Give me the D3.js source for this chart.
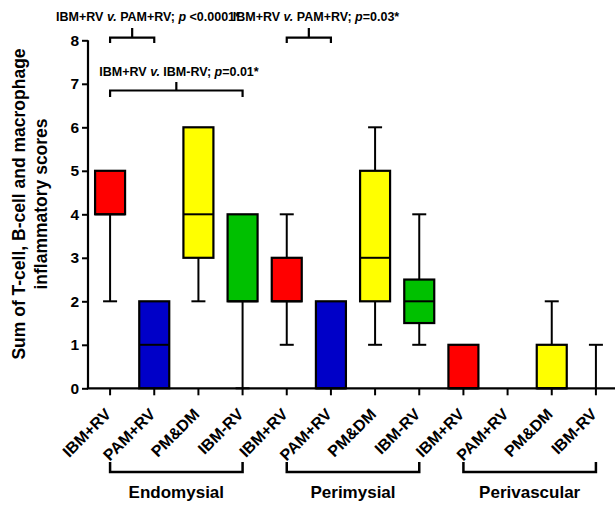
<!DOCTYPE html>
<html>
<head>
<meta charset="utf-8">
<script src="https://cdn.jsdelivr.net/npm/d3@7"></script>
<style>
  html, body { margin: 0; padding: 0; background: #fff; }
  svg { display: block; }
  text { font-family: "Liberation Sans", Arial, sans-serif; font-weight: bold; fill: #000; }
</style>
</head>
<body>
<svg id="chart" width="615" height="505"></svg>
<script>
// ---- data ----
const categories = ["IBM+RV", "PAM+RV", "PM&DM", "IBM-RV",
                    "IBM+RV", "PAM+RV", "PM&DM", "IBM-RV",
                    "IBM+RV", "PAM+RV", "PM&DM", "IBM-RV"];
const groups = ["Endomysial", "Perimysial", "Perivascular"];
const groupSize = 4;
const mins    = [2, 0, 2, 0,   1, 0, 1, 1,     0, 0, 0, 0];
const q1s     = [4, 0, 3, 2,   2, 0, 2, 1.5,   0, 0, 0, 0];
const medians = [4, 1, 4, 2,   2, 0, 3, 2,     0, 0, 0, 0];
const q3s     = [5, 2, 6, 4,   3, 2, 5, 2.5,   1, 0, 1, 0];
const maxs    = [5, 2, 6, 4,   4, 2, 6, 4,     1, 0, 2, 1];
const yTicks = [0, 1, 2, 3, 4, 5, 6, 7, 8];
const yTitle = ["Sum of T-cell, B-cell and macrophage", "inflammatory scores"];
const compFrom = [0, 4, 0];
const compTo   = [1, 5, 3];
const compA    = ["IBM+RV", "IBM+RV", "IBM+RV"];
const compB    = ["PAM+RV", "PAM+RV", "IBM-RV"];
const compP    = [" <0.0001*", "=0.03*", "=0.01*"];

// ---- style / layout ----
const colorByType = { "IBM+RV": "#ff0000", "PAM+RV": "#0000c8", "PM&DM": "#ffff00", "IBM-RV": "#00c000" };
const svg = d3.select("#chart");
const x = d3.scaleBand().domain(d3.range(categories.length)).range([88, 618]);
const y = d3.scaleLinear().domain([0, 8]).range([388.3, 40.3]);
const cx = i => x(i) + x.bandwidth() / 2;
const boxW = 30, capW = 14;

// boxes
const g = svg.append("g");
categories.forEach((c, i) => {
  const xc = cx(i);
  if (mins[i] < q1s[i]) {
    g.append("line").attr("x1", xc).attr("x2", xc).attr("y1", y(mins[i])).attr("y2", y(q1s[i]))
      .attr("stroke", "#000").attr("stroke-width", 2);
    g.append("line").attr("x1", xc - capW / 2).attr("x2", xc + capW / 2).attr("y1", y(mins[i])).attr("y2", y(mins[i]))
      .attr("stroke", "#000").attr("stroke-width", 2);
  }
  if (maxs[i] > q3s[i]) {
    g.append("line").attr("x1", xc).attr("x2", xc).attr("y1", y(maxs[i])).attr("y2", y(q3s[i]))
      .attr("stroke", "#000").attr("stroke-width", 2);
    g.append("line").attr("x1", xc - capW / 2).attr("x2", xc + capW / 2).attr("y1", y(maxs[i])).attr("y2", y(maxs[i]))
      .attr("stroke", "#000").attr("stroke-width", 2);
  }
  if (q3s[i] > q1s[i]) {
    g.append("rect").attr("x", xc - boxW / 2).attr("y", y(q3s[i])).attr("width", boxW)
      .attr("height", y(q1s[i]) - y(q3s[i]))
      .attr("fill", colorByType[c]).attr("stroke", "#000").attr("stroke-width", 2.2);
    g.append("line").attr("x1", xc - boxW / 2).attr("x2", xc + boxW / 2)
      .attr("y1", y(medians[i])).attr("y2", y(medians[i]))
      .attr("stroke", "#000").attr("stroke-width", 2);
  }
});

// y axis
const yAxis = svg.append("g").attr("transform", "translate(88,0)")
  .call(d3.axisLeft(y).tickValues(yTicks).tickSize(6).tickPadding(3).tickFormat(d3.format("d")));
yAxis.select(".domain").attr("stroke", "#000").attr("stroke-width", 2.2).attr("d", `M0,${y(8)}V${y(0)}`);
yAxis.selectAll(".tick line").attr("stroke", "#000").attr("stroke-width", 2);
yAxis.selectAll(".tick text").style("font-size", "15.5px").style("font-family", '"Liberation Sans", Arial, sans-serif')
  .style("font-weight", "bold").attr("fill", "#000");

// x axis
const xAxis = svg.append("g").attr("transform", `translate(0,${y(0)})`)
  .call(d3.axisBottom(x).tickSize(7).tickFormat(i => categories[i]));
xAxis.select(".domain").attr("stroke", "#000").attr("stroke-width", 2.2).attr("d", "M86.9,0H618");
xAxis.selectAll(".tick line").attr("stroke", "#000").attr("stroke-width", 2);
xAxis.selectAll(".tick text")
  .style("font-size", "16px").style("font-family", '"Liberation Sans", Arial, sans-serif').style("font-weight", "bold")
  .attr("fill", "#000").attr("text-anchor", "end")
  .attr("x", 0).attr("y", 0).attr("dy", 0)
  .attr("transform", "translate(2,27) rotate(-45)");

// group brackets
groups.forEach((gname, k) => {
  const x1 = cx(k * groupSize), x2 = cx(k * groupSize + groupSize - 1);
  svg.append("path").attr("d", `M${x1},462V472H${x2}V462`).attr("fill", "none")
    .attr("stroke", "#000").attr("stroke-width", 2.5);
  svg.append("text").attr("x", (x1 + x2) / 2).attr("y", 498).attr("text-anchor", "middle")
    .style("font-size", "17px").text(gname);
});

// comparison brackets
const compLayout = [
  { top: 37.7, leg: 43, stem: 28, textX: 148, textY: 21 },
  { top: 37.7, leg: 43, stem: 28, textX: 316, textY: 21 },
  { top: 90.5, leg: 97, stem: 82, textX: 179, textY: 76 }
];
compFrom.forEach((f, k) => {
  const L = compLayout[k];
  const x1 = cx(f), x2 = cx(compTo[k]), xm = (x1 + x2) / 2;
  svg.append("path").attr("d", `M${x1},${L.leg}V${L.top}H${x2}V${L.leg}M${xm},${L.top}V${L.stem}`)
    .attr("fill", "none").attr("stroke", "#000").attr("stroke-width", 2.2);
  const t = svg.append("text").attr("x", L.textX).attr("y", L.textY).attr("text-anchor", "middle")
    .style("font-size", "12.5px");
  t.append("tspan").text(compA[k] + " ");
  t.append("tspan").style("font-style", "italic").text("v.");
  t.append("tspan").text(" " + compB[k] + "; ");
  t.append("tspan").style("font-style", "italic").text("p");
  t.append("tspan").text(compP[k]);
});

// y title
const yt = svg.append("text").attr("transform", "translate(0,204) rotate(-90)").attr("text-anchor", "middle")
  .style("font-size", "17.5px");
yTitle.forEach((line, i) => {
  yt.append("tspan").attr("x", 0).attr("y", 25 + i * 21.5).text(line);
});
</script>
</body>
</html>
